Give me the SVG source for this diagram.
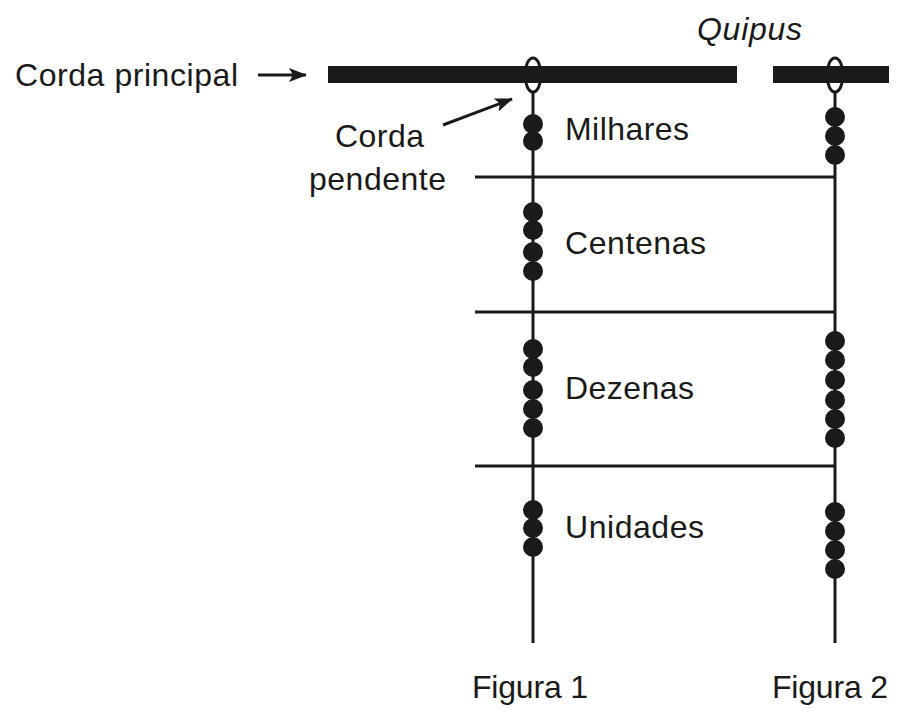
<svg xmlns="http://www.w3.org/2000/svg" width="909" height="713" viewBox="0 0 909 713">
<style>
text{font-family:"Liberation Sans",Arial,sans-serif;font-size:32px;fill:#1a1a1a}
.l{stroke:#1a1a1a;stroke-width:3;fill:none}
.b{fill:#1a1a1a}
</style>
<defs><marker id="a" markerWidth="18" markerHeight="14" refX="17" refY="7" orient="auto" markerUnits="userSpaceOnUse"><path d="M0,0 L18,7 L0,14 L4,7 Z" fill="#1a1a1a"/></marker></defs>
<rect width="909" height="713" fill="#fff"/>
<g id="main-cord"><rect x="328" y="66" width="409" height="17" class="b"/><rect x="773" y="66" width="116" height="17" class="b"/></g>
<g id="connectors">
<line class="l" x1="258" y1="75" x2="306" y2="75" marker-end="url(#a)" stroke-width="2.5"/>
<line class="l" x1="443" y1="125" x2="512" y2="99" marker-end="url(#a)" stroke-width="2.5"/>
<line class="l" x1="533" y1="92" x2="533" y2="643"/>
<line class="l" x1="835" y1="92" x2="835" y2="643"/>
<line class="l" x1="475" y1="177" x2="835" y2="177"/>
<line class="l" x1="475" y1="312" x2="835" y2="312"/>
<line class="l" x1="475" y1="466" x2="835" y2="466"/>
<ellipse cx="533" cy="75" rx="8" ry="17" class="l" stroke-width="2.5"/>
<ellipse cx="835" cy="75" rx="8" ry="17" class="l" stroke-width="2.5"/>
</g>
<g id="fig1-beads" class="b">
<circle cx="533" cy="124" r="10"/><circle cx="533" cy="141" r="10"/>
<circle cx="533" cy="212" r="10"/><circle cx="533" cy="230" r="10"/><circle cx="533" cy="252" r="10"/><circle cx="533" cy="271" r="10"/>
<circle cx="533" cy="349" r="10"/><circle cx="533" cy="367" r="10"/><circle cx="533" cy="390" r="10"/><circle cx="533" cy="409" r="10"/><circle cx="533" cy="428" r="10"/>
<circle cx="533" cy="510" r="10"/><circle cx="533" cy="528" r="10"/><circle cx="533" cy="547" r="10"/>
</g>
<g id="fig2-beads" class="b">
<circle cx="835" cy="117" r="10"/><circle cx="835" cy="136" r="10"/><circle cx="835" cy="155" r="10"/>
<circle cx="835" cy="341" r="10"/><circle cx="835" cy="360" r="10"/><circle cx="835" cy="380" r="10"/><circle cx="835" cy="400" r="10"/><circle cx="835" cy="419" r="10"/><circle cx="835" cy="438" r="10"/>
<circle cx="835" cy="512" r="10"/><circle cx="835" cy="531" r="10"/><circle cx="835" cy="550" r="10"/><circle cx="835" cy="569" r="10"/>
</g>
<g id="labels">
<text x="15" y="86" textLength="223">Corda principal</text>
<text x="697" y="40" font-style="italic" textLength="105">Quipus</text>
<text x="335" y="147" textLength="89">Corda</text>
<text x="309" y="190" textLength="137">pendente</text>
<text x="565" y="140" textLength="124">Milhares</text>
<text x="565" y="254" textLength="141">Centenas</text>
<text x="565" y="399" textLength="129">Dezenas</text>
<text x="565" y="538" textLength="139">Unidades</text>
<text x="472" y="698" textLength="116">Figura 1</text>
<text x="772" y="698" textLength="116">Figura 2</text>
</g>
</svg>
